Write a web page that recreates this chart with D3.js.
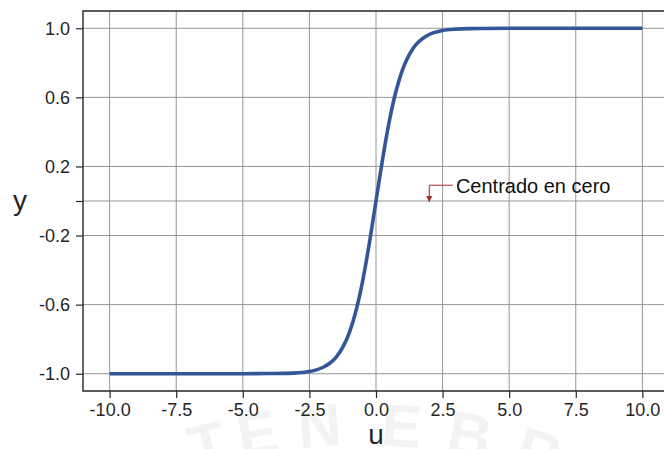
<!DOCTYPE html>
<html>
<head>
<meta charset="utf-8">
<script src="https://cdn.jsdelivr.net/npm/d3@7"></script>
<style>
    body { margin: 0; background: #fff; }
    svg { display: block; font-family: "Liberation Sans", Arial, sans-serif; }
</style>
</head>
<body>
<svg id="canvas" width="664" height="449"></svg>
<script>
(function () {

    // Curve points.
    var uValues = [-10, -6, -5, -4, -3.5, -3, -2.5, -2, -1.75, -1.5, -1.25, -1, -0.75, -0.5, -0.25,
                   0, 0.25, 0.5, 0.75, 1, 1.25, 1.5, 1.75, 2, 2.5, 3, 3.5, 4, 5, 6, 10];
    var yValues = [-1.0, -1.0, -1.0, -0.999, -0.998, -0.995, -0.987, -0.964, -0.941, -0.905, -0.848, -0.762, -0.635, -0.462, -0.245,
                   0.0, 0.245, 0.462, 0.635, 0.762, 0.848, 0.905, 0.941, 0.964, 0.987, 0.995, 0.998, 0.999, 1.0, 1.0, 1.0];

    // Ticks.
    var xTicks = [-10, -7.5, -5, -2.5, 0, 2.5, 5, 7.5, 10];
    var xTickLabels = ["-10.0", "-7.5", "-5.0", "-2.5", "0.0", "2.5", "5.0", "7.5", "10.0"];
    var yTicks = [-1.0, -0.6, -0.2, 0, 0.2, 0.6, 1.0];
    var yTickLabels = ["-1.0", "-0.6", "-0.2", "", "0.2", "0.6", "1.0"];

    // Annotation.
    var annotationText = "Centrado en cero";
    var annotationPoint = [2, 0];
    var annotationTextAt = [3, 0.1];

    var padding = { top: 11, left: 83 };
    var width = 586;
    var height = 380;
    var lineColor = "#33559a";
    var gridColor = "#959595";
    var inkColor = "#262626";

    var svg = d3.select("#canvas");

    // Faint watermark letters along an arc at the bottom.
    var markLetters = ["T", "E", "N", "E", "B", "R", "I", "S"];
    var markAngles = [-15.2, -10.2, -4, 4.1, 10.9, 17.9, 23, 28];
    svg.append("g")
        .selectAll("text")
        .data(markLetters)
        .enter().append("text")
        .attr("transform", (d, i) => "translate(360, 1005) rotate(" + markAngles[i] + ") translate(0, -560)")
        .attr("text-anchor", "middle")
        .attr("font-size", 60)
        .attr("font-weight", "bold")
        .attr("fill", "#f3f3f3")
        .text(d => d);

    var xScale = d3.scaleLinear().domain([-11, 11]).range([0, width]);
    var yScale = d3.scaleLinear().domain([-1.1, 1.1]).range([height, 0]);

    var g = svg.append("g")
        .attr("transform", "translate(" + padding.left + ", " + padding.top + ")");

    // Grid.
    g.append("g").selectAll("line")
        .data(xTicks)
        .enter().append("line")
        .attr("x1", d => xScale(d)).attr("x2", d => xScale(d))
        .attr("y1", 0).attr("y2", height)
        .attr("stroke", gridColor).attr("stroke-width", 1);
    g.append("g").selectAll("line")
        .data(yTicks)
        .enter().append("line")
        .attr("x1", 0).attr("x2", width)
        .attr("y1", d => yScale(d)).attr("y2", d => yScale(d))
        .attr("stroke", gridColor).attr("stroke-width", 1);

    // Axes.
    var xAxis = d3.axisBottom(xScale)
        .tickValues(xTicks)
        .tickFormat((d, i) => xTickLabels[i])
        .tickSize(7).tickSizeOuter(0).tickPadding(5);
    var yAxis = d3.axisLeft(yScale)
        .tickValues(yTicks)
        .tickFormat((d, i) => yTickLabels[i])
        .tickSize(7).tickSizeOuter(0).tickPadding(6);

    var gx = g.append("g")
        .attr("transform", "translate(0, " + height + ")")
        .call(xAxis);
    var gy = g.append("g")
        .call(yAxis);
    [gx, gy].forEach(function (a) {
        a.select(".domain").remove();
        a.selectAll("line").attr("stroke", inkColor).attr("stroke-width", 1.2);
        a.selectAll("text")
            .attr("fill", inkColor)
            .attr("font-size", 18)
            .attr("font-family", "Liberation Sans, Arial, sans-serif");
    });

    // Spines: left, bottom and top (the right one is off the page).
    g.append("path")
        .attr("d", "M" + width + ",0H0V" + height + "H" + width)
        .attr("fill", "none")
        .attr("stroke", inkColor)
        .attr("stroke-width", 1.4);

    // The curve.
    var line = d3.line()
        .x((d, i) => xScale(uValues[i]))
        .y(d => yScale(d))
        .curve(d3.curveMonotoneX);
    g.append("path")
        .datum(yValues)
        .attr("fill", "none")
        .attr("stroke", lineColor)
        .attr("stroke-width", 3.6)
        .attr("d", line);

    // Axis labels.
    svg.append("text")
        .attr("x", padding.left + width / 2)
        .attr("y", 444)
        .attr("text-anchor", "middle")
        .attr("font-size", 28)
        .attr("fill", inkColor)
        .text("u");
    svg.append("text")
        .attr("x", 20)
        .attr("y", 210)
        .attr("text-anchor", "middle")
        .attr("font-size", 28)
        .attr("fill", inkColor)
        .text("y");

    // Annotation with an angled arrow.
    var arrowColor = "#a52a2a";
    svg.append("defs").append("marker")
        .attr("id", "head")
        .attr("viewBox", "0 0 10 10")
        .attr("refX", 10).attr("refY", 5)
        .attr("markerWidth", 6).attr("markerHeight", 7)
        .attr("markerUnits", "userSpaceOnUse")
        .attr("orient", "auto")
        .append("path")
        .attr("d", "M0,0L10,5L0,10Z")
        .attr("fill", arrowColor);

    var tx = xScale(annotationTextAt[0]);
    var ty = yScale(annotationTextAt[1]);
    g.append("path")
        .attr("d", "M" + (tx - 3) + "," + (ty + 1.5) +
            "H" + xScale(annotationPoint[0]) +
            "V" + (yScale(annotationPoint[1]) + 1))
        .attr("fill", "none")
        .attr("stroke", arrowColor)
        .attr("stroke-width", 1)
        .attr("marker-end", "url(#head)");
    g.append("text")
        .attr("x", tx)
        .attr("y", ty + 9)
        .attr("font-size", 20)
        .attr("fill", "#111")
        .text(annotationText);

})();
</script>
</body>
</html>
